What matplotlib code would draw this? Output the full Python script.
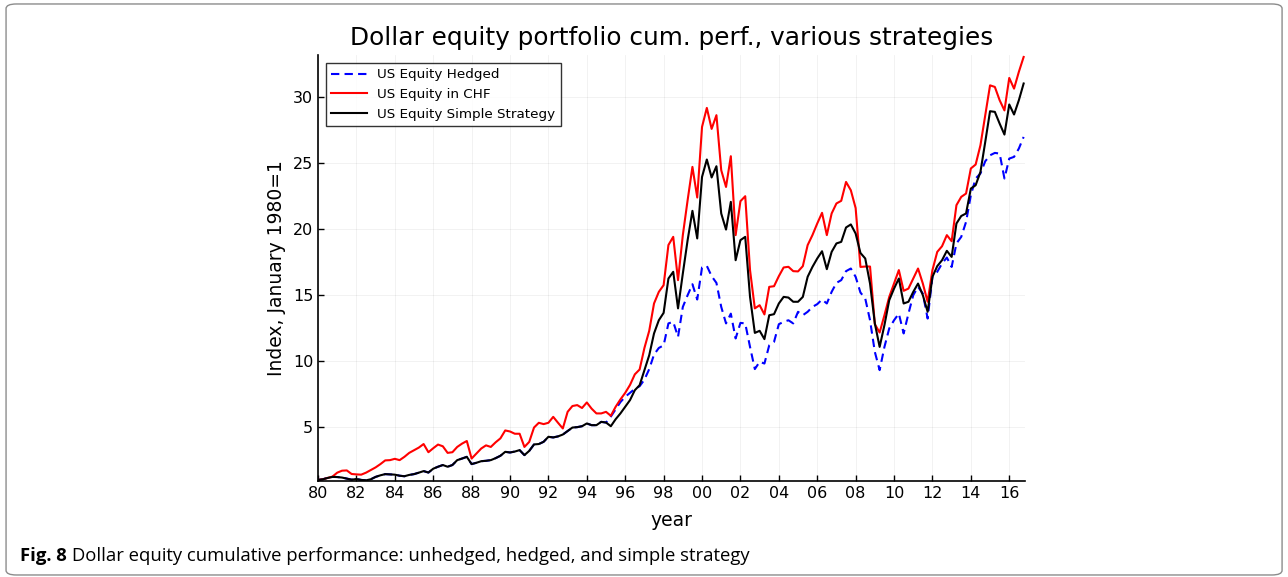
import matplotlib
matplotlib.use("Agg")
import matplotlib.pyplot as plt
import numpy as np
from matplotlib.patches import FancyBboxPatch

# quarterly index values, 1980Q1 .. 2016Q4 (January 1980 = 1)
START_YEAR = 1980
chf = [
    1.00, 1.05, 1.15, 1.25,  # 1980
    1.55, 1.70, 1.72, 1.45,
    1.42, 1.40, 1.55, 1.75,
    1.95, 2.20, 2.48, 2.50,
    2.60, 2.50, 2.75, 3.05,
    3.25, 3.45, 3.72, 3.10,  # 1985
    3.40, 3.68, 3.55, 3.05,
    3.10, 3.50, 3.75, 3.95,
    2.62, 3.00, 3.38, 3.62,
    3.50, 3.85, 4.15, 4.75,
    4.67, 4.50, 4.50, 3.50,  # 1990
    3.88, 4.97, 5.33, 5.23,
    5.33, 5.78, 5.33, 4.90,
    6.16, 6.60, 6.67, 6.45,
    6.87, 6.40, 6.04, 6.04,
    6.16, 5.86, 6.54, 7.10,  # 1995
    7.60, 8.20, 9.00, 9.37,
    11.00, 12.30, 14.37, 15.25,
    15.76, 18.80, 19.42, 16.14,
    19.55, 22.20, 24.72, 22.40,
    27.75, 29.19, 27.60, 28.64,  # 2000
    24.47, 23.20, 25.53, 19.55,
    22.12, 22.50, 16.90, 14.00,
    14.24, 13.54, 15.63, 15.68,
    16.44, 17.10, 17.15, 16.82,
    16.80, 17.20, 18.79, 19.55,  # 2005
    20.43, 21.24, 19.55, 21.19,
    21.95, 22.15, 23.58, 22.95,
    21.60, 17.14, 17.17, 17.17,
    12.80, 12.17, 13.48, 14.87,
    15.88, 16.90, 15.33, 15.50,  # 2010
    16.26, 17.02, 15.88, 14.50,
    16.90, 18.28, 18.71, 19.55,
    19.09, 21.82, 22.45, 22.70,
    24.60, 24.90, 26.36, 28.64,
    30.90, 30.78, 29.77, 29.00,  # 2015
    31.46, 30.65, 31.92, 33.05,
]
simple = [
    1.00, 1.05, 1.15, 1.23,  # 1980
    1.22, 1.18, 1.10, 1.02,
    1.07, 1.00, 0.97, 1.05,
    1.23, 1.35, 1.44, 1.42,
    1.40, 1.32, 1.28, 1.38,
    1.44, 1.55, 1.67, 1.56,  # 1985
    1.85, 2.00, 2.13, 2.00,
    2.13, 2.50, 2.62, 2.75,
    2.20, 2.30, 2.42, 2.45,
    2.50, 2.65, 2.83, 3.13,
    3.08, 3.15, 3.26, 2.88,  # 1990
    3.20, 3.69, 3.72, 3.89,
    4.27, 4.22, 4.30, 4.44,
    4.70, 4.97, 5.00, 5.07,
    5.28, 5.15, 5.15, 5.40,
    5.35, 5.07, 5.60, 6.04,  # 1995
    6.54, 7.05, 7.80, 8.18,
    9.32, 10.45, 12.10, 13.10,
    13.66, 16.26, 16.77, 14.00,
    16.64, 19.17, 21.39, 19.30,
    23.96, 25.28, 23.92, 24.77,  # 2000
    21.19, 19.97, 22.07, 17.65,
    19.17, 19.42, 14.87, 12.14,
    12.30, 11.67, 13.48, 13.56,
    14.37, 14.87, 14.82, 14.50,
    14.50, 14.87, 16.39, 17.14,  # 2005
    17.78, 18.33, 16.97, 18.28,
    18.92, 19.04, 20.13, 20.36,
    19.67, 18.20, 17.78, 15.88,
    12.86, 11.08, 12.73, 14.62,
    15.50, 16.26, 14.37, 14.50,  # 2010
    15.25, 15.88, 15.00, 13.74,
    16.39, 17.20, 17.65, 18.36,
    17.90, 20.43, 21.00, 21.19,
    23.08, 23.33, 24.34, 26.61,
    28.94, 28.89, 28.00, 27.17,  # 2015
    29.45, 28.69, 29.77, 31.04,
]
hedged = [
    1.00, 1.05, 1.15, 1.23,  # 1980
    1.22, 1.18, 1.10, 1.02,
    1.07, 1.00, 0.97, 1.05,
    1.23, 1.35, 1.44, 1.42,
    1.40, 1.32, 1.28, 1.38,
    1.44, 1.55, 1.67, 1.56,  # 1985
    1.85, 2.00, 2.13, 2.00,
    2.13, 2.50, 2.62, 2.75,
    2.20, 2.30, 2.42, 2.45,
    2.50, 2.65, 2.83, 3.13,
    3.08, 3.15, 3.26, 2.88,  # 1990
    3.20, 3.69, 3.72, 3.89,
    4.27, 4.22, 4.30, 4.44,
    4.70, 4.97, 5.00, 5.07,
    5.28, 5.15, 5.15, 5.40,
    5.35, 5.80, 6.35, 6.90,  # 1995
    7.30, 7.60, 7.90, 8.10,
    8.60, 9.40, 10.50, 11.00,
    11.20, 12.86, 12.98, 11.84,
    14.11, 15.00, 15.83, 14.67,
    17.10, 17.22, 16.44, 15.93,  # 2000
    14.11, 12.86, 13.60, 11.72,
    12.90, 12.86, 11.08, 9.40,
    9.95, 9.82, 11.20, 11.46,
    12.80, 12.98, 13.10, 12.86,
    13.74, 13.48, 13.74, 14.11,  # 2005
    14.32, 14.67, 14.37, 15.25,
    15.93, 16.14, 16.82, 17.02,
    16.39, 15.20, 14.75, 13.10,
    10.70, 9.32, 11.08, 12.48,
    13.10, 13.60, 12.10, 13.60,  # 2010
    15.00, 15.63, 15.12, 13.23,
    16.39, 16.77, 17.40, 17.85,
    17.14, 18.92, 19.42, 20.55,
    22.58, 23.84, 24.22, 25.15,
    25.60, 25.78, 25.73, 23.84,  # 2015
    25.35, 25.48, 26.11, 26.99,
]
tick_years = list(range(1980, 2017, 2))
tick_labels = [f"{y % 100:02d}" for y in tick_years]
y_ticks = [5, 10, 15, 20, 25, 30]

dates = START_YEAR + np.arange(len(chf)) / 4

fig = plt.figure(figsize=(12.88, 5.77), dpi=100)
ax = fig.add_axes([0.2469, 0.1664, 0.7958 - 0.2469, 0.9047 - 0.1664])

ax.plot(dates, hedged, color="#0000FF", linewidth=1.5, linestyle=(0, (4, 2.5)), label="US Equity Hedged")
ax.plot(dates, chf, color="#FF0000", linewidth=1.5, label="US Equity in CHF")
ax.plot(dates, simple, color="black", linewidth=1.5, label="US Equity Simple Strategy")

ax.set_xlim(1980, 2016.82)
ax.set_ylim(0.92, 33.2)
ax.set_xticks(tick_years)
ax.set_xticklabels(tick_labels)
ax.set_yticks(y_ticks)
ax.tick_params(direction="in", length=4, width=1, labelsize=11.5)
ax.grid(True, color="black", alpha=0.06, linewidth=0.6)
for side in ("top", "right"):
    ax.spines[side].set_visible(False)
for side in ("left", "bottom"):
    ax.spines[side].set_linewidth(1.2)

ax.set_title("Dollar equity portfolio cum. perf., various strategies", fontsize=17.8, pad=7)
ax.set_xlabel("year", fontsize=13.5, labelpad=7)
ax.set_ylabel("Index, January 1980=1", fontsize=13.5, labelpad=5)

leg = ax.legend(loc="upper left", fontsize=9.7, frameon=True, fancybox=False,
                edgecolor="black", handlelength=2.6, labelspacing=0.5,
                borderaxespad=0.6, bbox_to_anchor=(0.0, 1.0))
leg.get_frame().set_linewidth(1.0)

fig.patches.append(FancyBboxPatch((0.0047, 0.0035), 0.9907, 0.9896,
                                  boxstyle="round,pad=0,rounding_size=0.008",
                                  transform=fig.transFigure, facecolor="none",
                                  edgecolor="#8c8c8c", linewidth=1.0))

renderer = fig.canvas.get_renderer()
bold = fig.text(0.0155, 0.027, "Fig. 8", fontsize=13.3, fontweight="bold",
                family="Open Sans", va="baseline")
bb = bold.get_window_extent(renderer)
fig.text((bb.x1 + 5) / fig.bbox.width, 0.027,
         "Dollar equity cumulative performance: unhedged, hedged, and simple strategy",
         fontsize=13.3, family="Open Sans", va="baseline")

fig.savefig("out.png", dpi=100)
